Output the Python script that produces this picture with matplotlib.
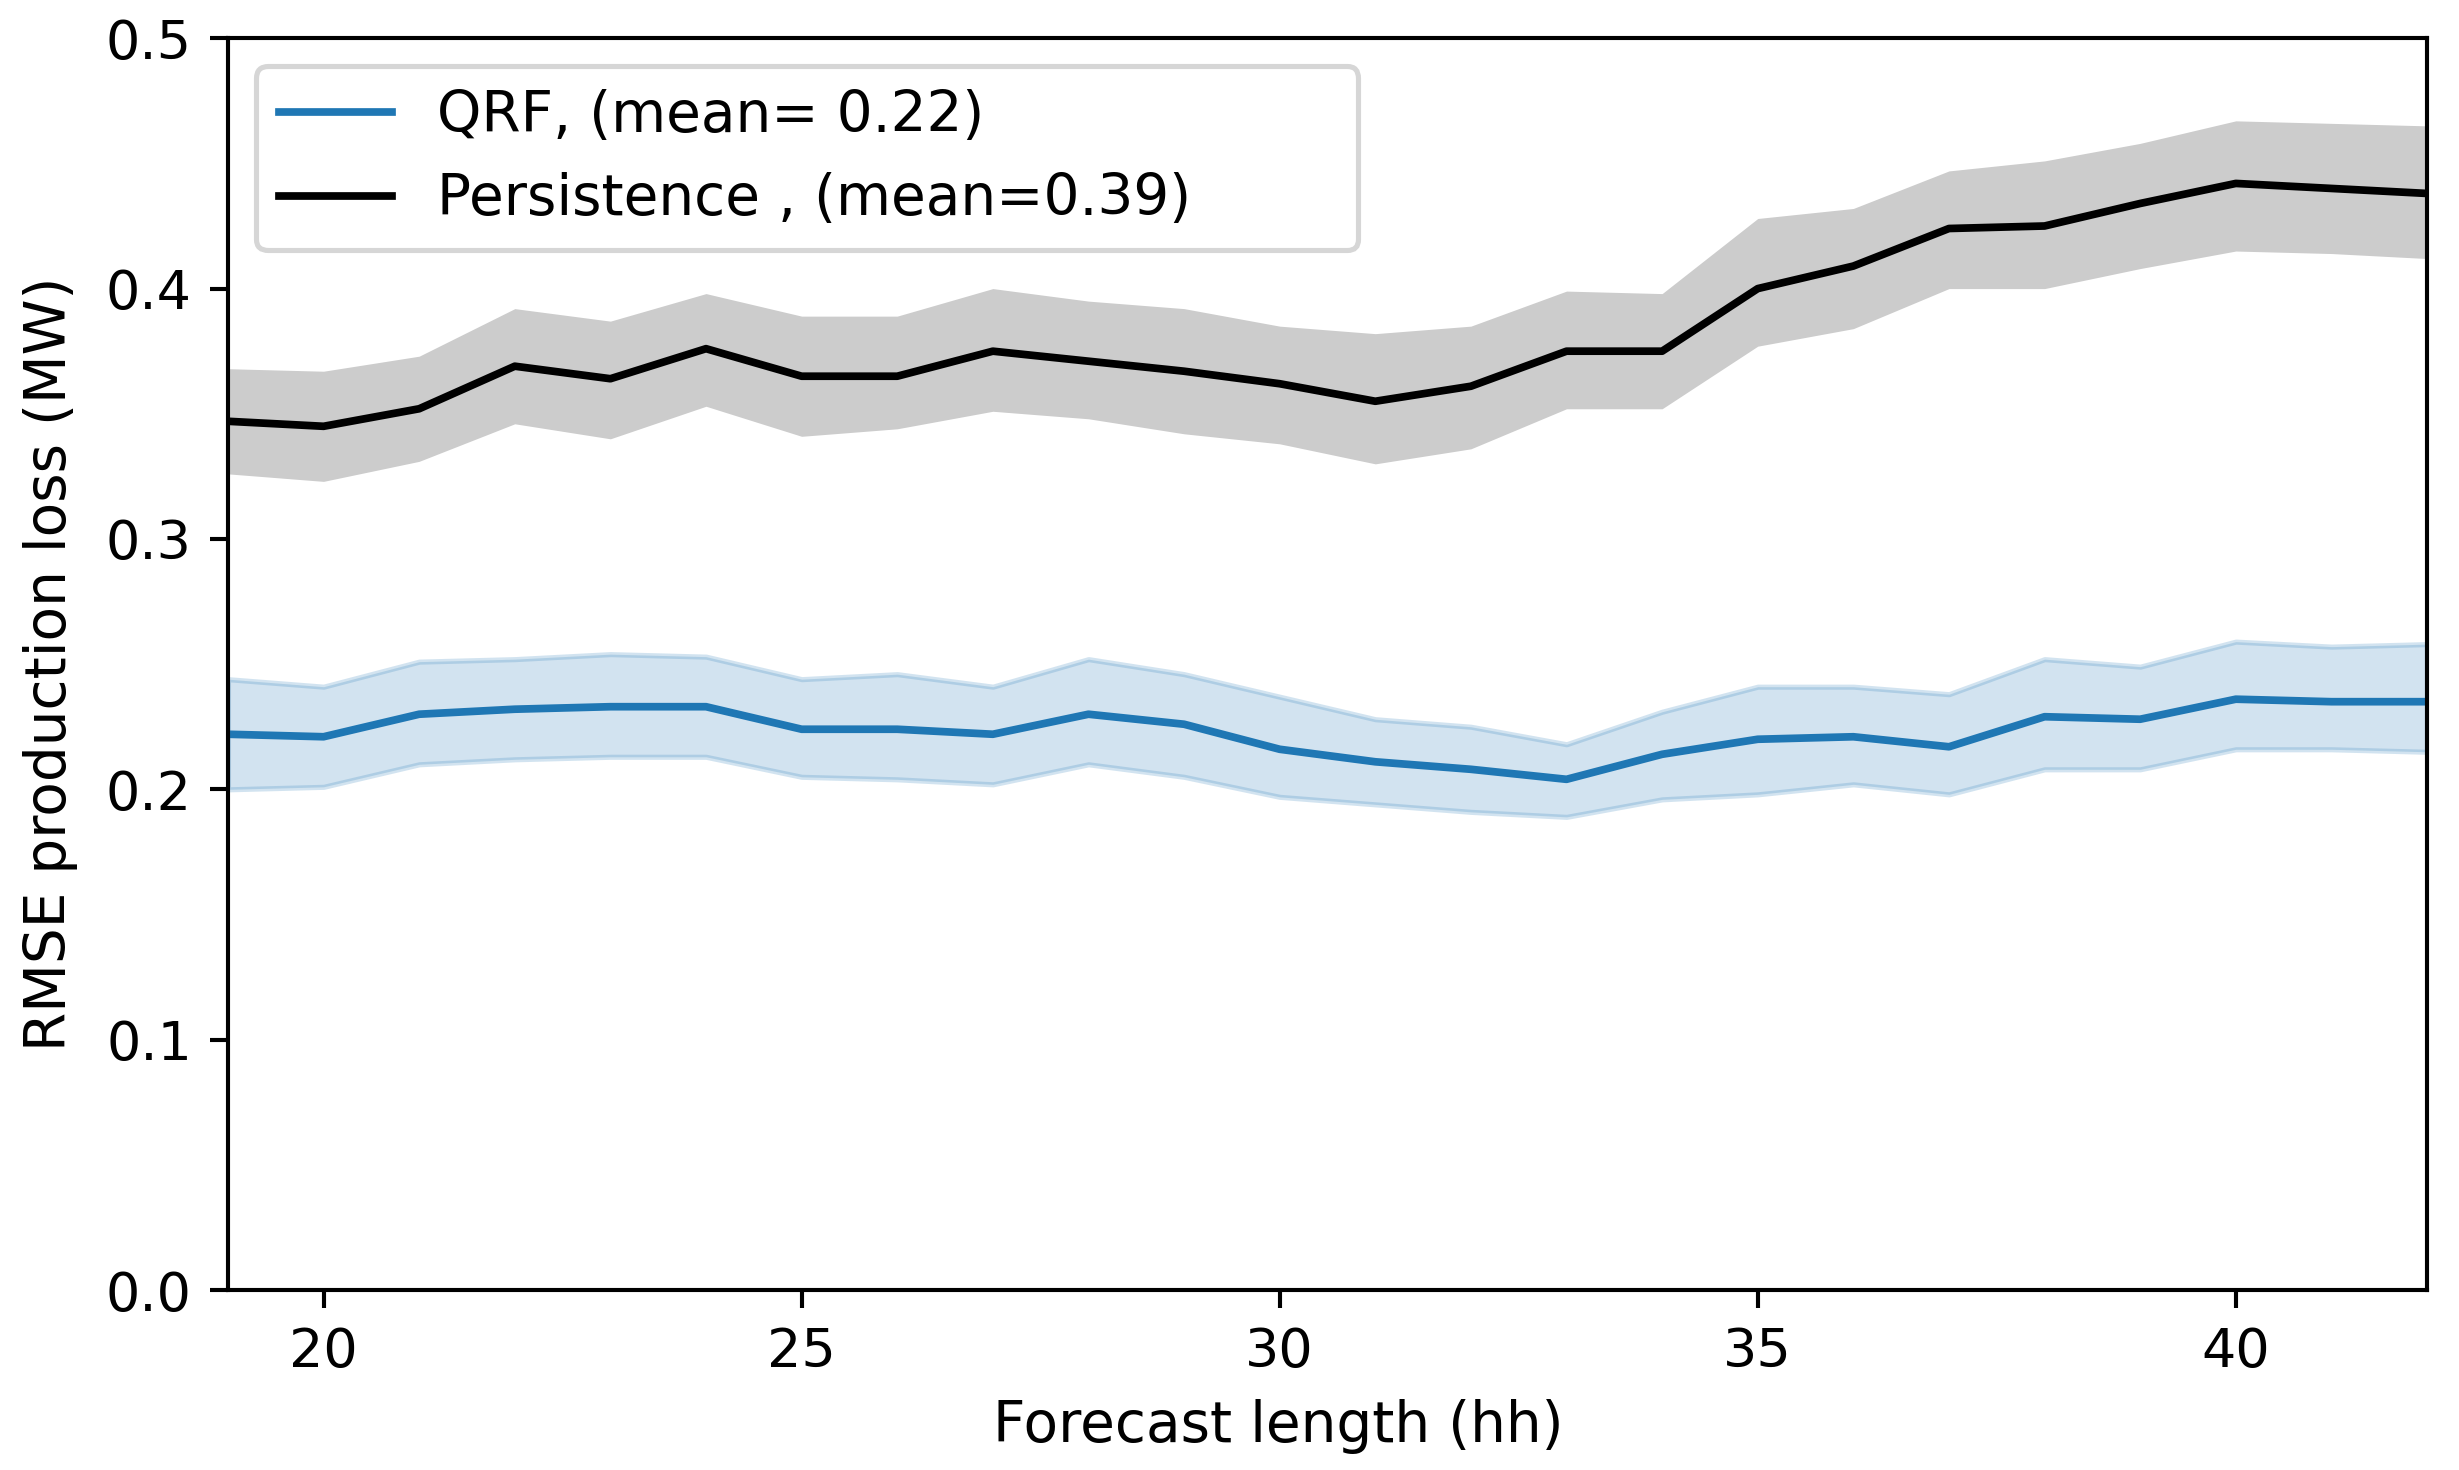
import numpy as np
import matplotlib
matplotlib.use('Agg')
import matplotlib.pyplot as plt

# Forecast lengths (hh)
hours = list(range(19, 43))

# QRF RMSE with band
qrf_mean = [0.222, 0.221, 0.230, 0.232, 0.233, 0.233, 0.224, 0.224, 0.222, 0.230, 0.226, 0.216,
            0.211, 0.208, 0.204, 0.214, 0.220, 0.221, 0.217, 0.229, 0.228, 0.236, 0.235, 0.235]
qrf_upper = [0.244, 0.241, 0.251, 0.252, 0.254, 0.253, 0.244, 0.246, 0.241, 0.252, 0.246, 0.237,
             0.228, 0.225, 0.218, 0.231, 0.241, 0.241, 0.238, 0.252, 0.249, 0.259, 0.257, 0.258]
qrf_lower = [0.200, 0.201, 0.210, 0.212, 0.213, 0.213, 0.205, 0.204, 0.202, 0.210, 0.205, 0.197,
             0.194, 0.191, 0.189, 0.196, 0.198, 0.202, 0.198, 0.208, 0.208, 0.216, 0.216, 0.215]

# Persistence RMSE with band
pers_mean = [0.347, 0.345, 0.352, 0.369, 0.364, 0.376, 0.365, 0.365, 0.375, 0.371, 0.367, 0.362,
             0.355, 0.361, 0.375, 0.375, 0.400, 0.409, 0.424, 0.425, 0.434, 0.442, 0.440, 0.438]
pers_upper = [0.368, 0.367, 0.373, 0.392, 0.387, 0.398, 0.389, 0.389, 0.400, 0.395, 0.392, 0.385,
              0.382, 0.385, 0.399, 0.398, 0.428, 0.432, 0.447, 0.451, 0.458, 0.467, 0.466, 0.465]
pers_lower = [0.326, 0.323, 0.331, 0.346, 0.340, 0.353, 0.341, 0.344, 0.351, 0.348, 0.342, 0.338,
              0.330, 0.336, 0.352, 0.352, 0.377, 0.384, 0.400, 0.400, 0.408, 0.415, 0.414, 0.412]

DPI = 370
plt.rcParams['font.size'] = 11
plt.rcParams['xtick.labelsize'] = 10.5
plt.rcParams['ytick.labelsize'] = 10.5

fig = plt.figure(figsize=(2459 / DPI, 1470 / DPI), dpi=DPI)
ax = fig.add_axes([0.0927, 0.1224, 0.8943, 0.8516])

ax.plot(hours, qrf_mean, color='C0', label='QRF, (mean= 0.22)')
ax.fill_between(hours, qrf_lower, qrf_upper, color='C0', alpha=0.2)
ax.plot(hours, pers_mean, color='k', label='Persistence , (mean=0.39)' + ' ' * 8)
ax.fill_between(hours, pers_lower, pers_upper, color='0.8', linewidth=0)

ax.set_xlim(19, 42)
ax.set_ylim(0, 0.5)
ax.set_xticks([20, 25, 30, 35, 40])
ax.set_xlabel('Forecast length (hh)')
ax.xaxis.label.set_x(0.4775)   # label sits a bit left of centre in the original
ax.set_ylabel('RMSE production loss (MW)', labelpad=5.5)
ax.legend(loc='upper left')

fig.savefig('out.png', dpi=DPI)
